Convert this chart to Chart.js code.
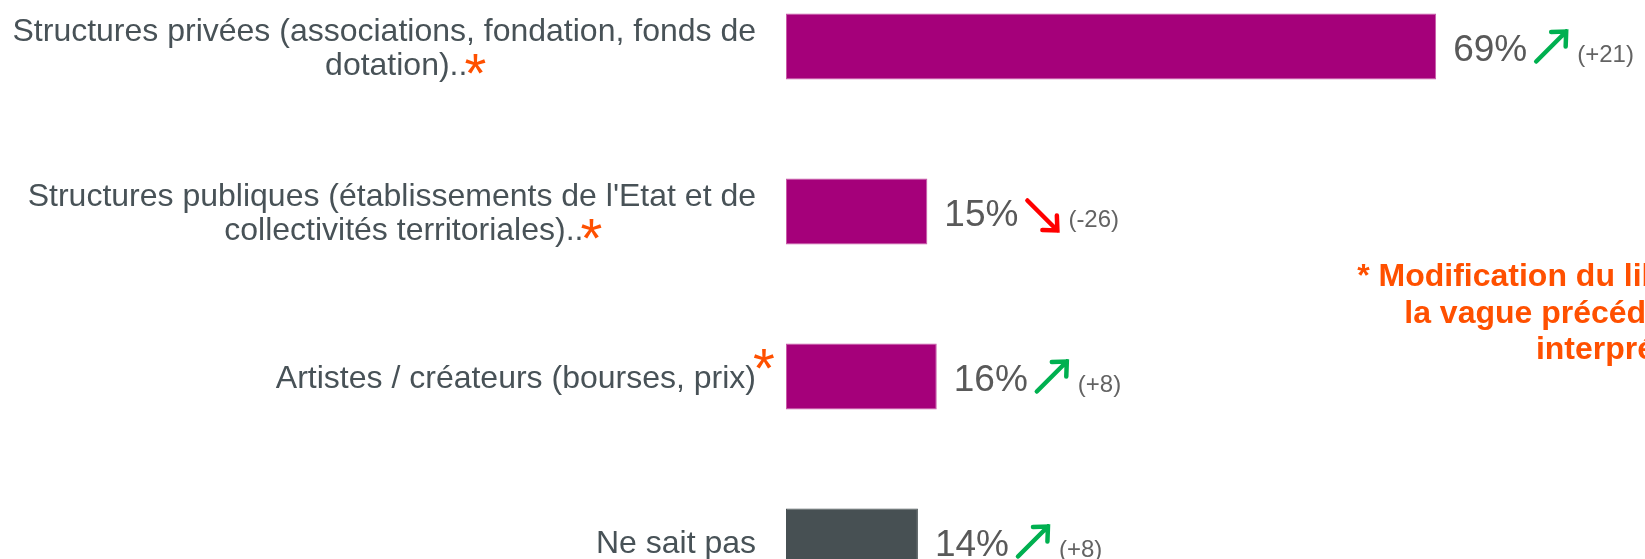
<!DOCTYPE html>
<html lang="fr">
<head>
<meta charset="utf-8">
<title>Structures</title>
<script src="https://cdn.jsdelivr.net/npm/chart.js"></script>
<style>
  html, body { margin: 0; padding: 0; background: #fff; overflow: hidden; }
  body { width: 1645px; height: 559px; position: relative; }
  #chart { position: absolute; left: 0; top: -36px; }
  .note {
    position: absolute; left: 1339px; top: 257px; width: 600px;
    text-align: center; white-space: nowrap;
    font: bold 32px "Liberation Sans", Arial, sans-serif; line-height: 36.5px;
    color: #ff5000;
  }
</style>
</head>
<body>
<canvas id="chart" width="1645" height="660"></canvas>
<div class="note">* Modification du libellé par rapport à<br>la vague précédente, prudence<br>interprétation</div>
<script>
const categories = [
  ['Structures privées (associations, fondation, fonds de', 'dotation)..'],
  ["Structures publiques (établissements de l'Etat et de", 'collectivités territoriales)..'],
  ['Artistes / créateurs (bourses, prix)'],
  ['Ne sait pas']
];
const modified = [true, true, true, false];
const values = [69, 15, 16, 14];
const deltas = [21, -26, 8, 8];

const FONT = '"Liberation Sans", Arial, sans-serif';

function drawArrow(ctx, x, base, d) {
  const up = d > 0;
  const x1 = x, y1 = up ? base + 1 : base - 25;
  const x2 = x + 30, y2 = up ? base - 29 : base + 5;
  const ang = Math.atan2(y2 - y1, x2 - x1);
  ctx.save();
  ctx.strokeStyle = up ? '#00b050' : '#ff0000';
  ctx.lineWidth = 4.5;
  ctx.lineCap = 'round';
  ctx.beginPath();
  ctx.moveTo(x1, y1);
  ctx.lineTo(x2, y2);
  ctx.moveTo(x2 - 15 * Math.cos(ang - 0.75), y2 - 15 * Math.sin(ang - 0.75));
  ctx.lineTo(x2, y2);
  ctx.lineTo(x2 - 15 * Math.cos(ang + 0.75), y2 - 15 * Math.sin(ang + 0.75));
  ctx.stroke();
  ctx.restore();
}

// category labels on the left, value + change on the right of each bar
const barLabels = {
  id: 'barLabels',
  afterDatasetsDraw(chart) {
    const ctx = chart.ctx;
    const yScale = chart.scales.y;
    const area = chart.chartArea;
    const bars = chart.getDatasetMeta(0).data;
    ctx.save();
    ctx.textAlign = 'left';
    ctx.textBaseline = 'alphabetic';
    categories.forEach((lines, i) => {
      const y = yScale.getPixelForValue(i);
      ctx.font = '32px ' + FONT;
      const widths = lines.map(l => ctx.measureText(l).width);
      const maxW = Math.max(...widths);
      const center = area.left - 30 - maxW / 2;
      ctx.fillStyle = '#485257';
      let lastEnd = 0, lastBase = 0;
      lines.forEach((line, k) => {
        const base = y + 11.5 + (k - (lines.length - 1) / 2) * 34;
        // wrapped lines sit a little right of the block centre
        const nudge = widths[k] < maxW ? 12 : 0;
        const x0 = center - widths[k] / 2 + nudge;
        ctx.fillText(line, x0, base);
        lastEnd = x0 + widths[k];
        lastBase = base;
      });
      if (modified[i]) {
        ctx.font = '56px ' + FONT;
        ctx.fillStyle = '#ff5000';
        ctx.fillText('*', lastEnd - 3, lastBase + (lines.length > 1 ? 17 : -1));
      }

      const bar = bars[i];
      const base = bar.y + 14;
      const txt = values[i] + '%';
      const tx = bar.x + 17;
      ctx.font = '37px ' + FONT;
      ctx.fillStyle = '#595959';
      ctx.fillText(txt, tx, base);
      const ax = tx + ctx.measureText(txt).width + 9;
      drawArrow(ctx, ax, base, deltas[i]);
      ctx.font = '24px ' + FONT;
      ctx.fillStyle = '#636363';
      ctx.fillText('(' + (deltas[i] > 0 ? '+' : '') + deltas[i] + ')', ax + 41, base + 1);
    });
    ctx.restore();
  }
};

new Chart(document.getElementById('chart'), {
  type: 'bar',
  data: {
    labels: categories,
    datasets: [{
      data: values,
      backgroundColor: ['#a5007a', '#a5007a', '#a5007a', '#475053'],
      borderColor: ['#c85aa8', '#c85aa8', '#c85aa8', '#475053'],
      borderWidth: 1,
      borderSkipped: false,
      barPercentage: 0.4,
      categoryPercentage: 1
    }]
  },
  options: {
    indexAxis: 'y',
    responsive: false,
    animation: false,
    devicePixelRatio: 1,
    layout: { padding: { left: 786, right: 11, top: 0, bottom: 0 } },
    plugins: { legend: { display: false }, tooltip: { enabled: false } },
    scales: {
      x: { display: false, min: 0, max: 90 },
      y: { display: false }
    }
  },
  plugins: [barLabels]
});
</script>
</body>
</html>
